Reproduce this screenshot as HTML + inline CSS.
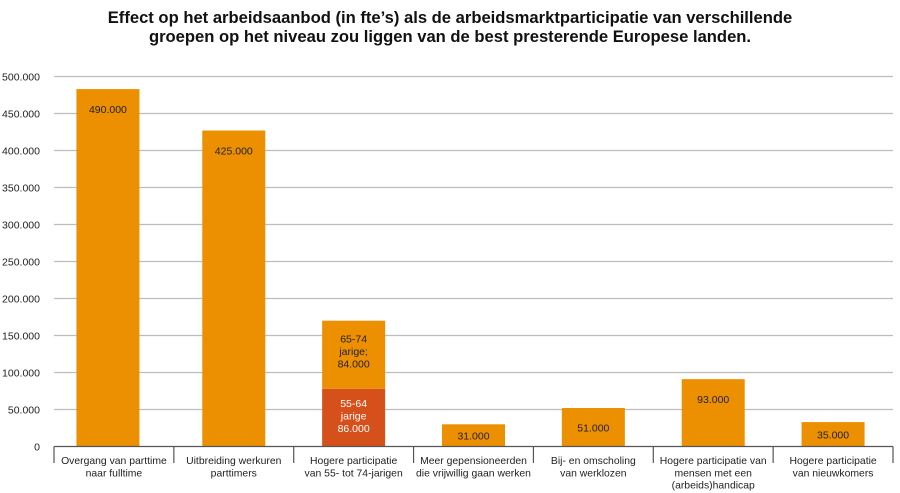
<!DOCTYPE html>
<html><head><meta charset="utf-8"><style>
body{margin:0;background:#fff;width:900px;height:493px;overflow:hidden;font-family:"Liberation Sans",Arial,sans-serif}
#title{position:absolute;left:0;top:8px;width:900px;text-align:center;font-weight:bold;font-size:16.6px;line-height:19px;color:#111}
</style></head><body>
<div id="title">Effect op het arbeidsaanbod (in fte’s) als de arbeidsmarktparticipatie van verschillende<br>groepen op het niveau zou liggen van de best presterende Europese landen.</div>
<svg id="chart" width="900" height="493" style="position:absolute;left:0;top:0"></svg>
<script>
const categories=[["Overgang van parttime","naar fulltime"],["Uitbreiding werkuren","parttimers"],["Hogere participatie","van 55- tot 74-jarigen"],["Meer gepensioneerden","die vrijwillig gaan werken"],["Bij- en omscholing","van werklozen"],["Hogere participatie van","mensen met een","(arbeids)handicap"],["Hogere participatie","van nieuwkomers"]];
const valuesMain=[483000,427000,92000,30000,52000,91000,33000];
const valuesBase=[0,0,78000,0,0,0,0];
const barLabels=[["490.000"],["425.000"],["65-74","jarige;","84.000"],["31.000"],["51.000"],["93.000"],["35.000"]];
const baseLabels=[null,null,["55-64","jarige","86.000"],null,null,null,null];
const yTicks=[0,50000,100000,150000,200000,250000,300000,350000,400000,450000,500000];
const yTickLabels=["0","50.000","100.000","150.000","200.000","250.000","300.000","350.000","400.000","450.000","500.000"];
const NS="http://www.w3.org/2000/svg";
const svg=document.getElementById('chart');
const x0=54,x1=893,y0=446.5,yTop=76.5,maxV=500000;
const cw=(x1-x0)/categories.length;
const Y=v=>y0-(v/maxV)*(y0-yTop);
const X=i=>x0+cw*i+cw/2;
function mk(t,a){const e=document.createElementNS(NS,t);for(const k in a)e.setAttribute(k,a[k]);svg.appendChild(e);return e;}
yTicks.forEach((v,i)=>{
 if(v>0){const g=mk('line',{x1:x0,x2:x1,y1:Y(v),y2:Y(v),stroke:'#bdbdbd','stroke-width':1.2});
 
 }
 const t=mk('text',{x:40,y:Y(v)+4,'text-anchor':'end','font-size':10.5,fill:'#222'});
 t.textContent=yTickLabels[i];
 
 
});
const bw=63;
categories.forEach((c,i)=>{
 const cx=X(i)-(i===0?6:0);
 if(valuesBase[i]>0){
  const r=mk('rect',{x:cx-bw/2,y:Y(valuesBase[i]),width:bw,height:y0-Y(valuesBase[i]),fill:'#D5501B'});
  
  
 }
 const top=valuesBase[i]+valuesMain[i];
 const r=mk('rect',{x:cx-bw/2,y:Y(top),width:bw,height:Y(valuesBase[i])-Y(top),fill:'#EC8F00'});
 
 
 const lines=barLabels[i];
 const ly=lines.length>1?Y(top)+22:Math.min(Y(top)+24,(Y(top)+y0)/2+4);
 lines.forEach((s,j)=>{const t=mk('text',{x:cx,y:ly+j*12.5,'text-anchor':'middle','font-size':10.5,fill:'#222'});t.textContent=s;
  
  });
 if(baseLabels[i]){baseLabels[i].forEach((s,j)=>{const t=mk('text',{x:cx,y:Y(valuesBase[i])+18+j*12.5,'text-anchor':'middle','font-size':10.5,fill:'#fff'});t.textContent=s;
  
  });}
 c.forEach((s,j)=>{const t=mk('text',{x:X(i),y:464+j*12.3,'text-anchor':'middle','font-size':10.4,fill:'#222'});t.textContent=s;
  
  });
});
for(let i=0;i<=categories.length;i++){const l=mk('line',{x1:x0+cw*i,x2:x0+cw*i,y1:y0,y2:463,stroke:'#555','stroke-width':1.2});
 
 }
const ax=mk('line',{x1:x0,x2:x1,y1:y0,y2:y0,stroke:'#555','stroke-width':1.3});


</script>
</body></html>
